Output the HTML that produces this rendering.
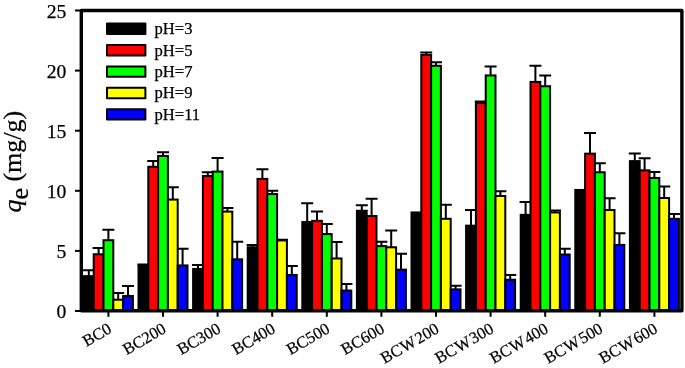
<!DOCTYPE html>
<html><head><meta charset="utf-8"><title>chart</title>
<style>html,body{margin:0;padding:0;background:#fff;overflow:hidden}svg{display:block}text{font-family:"Liberation Serif","Times New Roman",serif;fill:#000;stroke:#000;stroke-width:0.25px}</style></head><body>
<svg width="685" height="368" viewBox="0 0 685 368">
<rect x="0" y="0" width="685" height="368" fill="#fff"/>
<g stroke="#000" stroke-width="2" fill="none">
<path d="M88.80 276.14V270.25M82.80 270.25H94.80"/>
<path d="M143.40 265.80V264.60M137.40 264.60H149.40"/>
<path d="M198.00 268.93V264.96M192.00 264.96H204.00"/>
<path d="M252.60 247.29V244.89M246.60 244.89H258.60"/>
<path d="M307.20 222.05V203.30M301.20 203.30H313.20"/>
<path d="M361.80 210.75V205.22M355.80 205.22H367.80"/>
<path d="M471.00 225.66V210.03M465.00 210.03H477.00"/>
<path d="M525.60 214.84V202.10M519.60 202.10H531.60"/>
<path d="M634.80 161.11V153.54M628.80 153.54H640.80"/>
<path d="M98.60 254.27V248.02M92.60 248.02H104.60"/>
<path d="M153.20 166.76V161.11M147.20 161.11H159.20"/>
<path d="M207.80 176.02V172.17M201.80 172.17H213.80"/>
<path d="M262.40 178.90V169.16M256.40 169.16H268.40"/>
<path d="M317.00 220.85V211.59M311.00 211.59H323.00"/>
<path d="M371.60 216.04V198.85M365.60 198.85H377.60"/>
<path d="M426.20 54.97V52.57M420.20 52.57H432.20"/>
<path d="M480.80 103.05V101.61M474.80 101.61H486.80"/>
<path d="M535.40 81.90V65.79M529.40 65.79H541.40"/>
<path d="M590.00 153.66V133.10M584.00 133.10H596.00"/>
<path d="M644.60 170.37V158.35M638.60 158.35H650.60"/>
<path d="M108.40 240.20V229.74M102.40 229.74H114.40"/>
<path d="M163.00 155.94V152.34M157.00 152.34H169.00"/>
<path d="M217.60 171.57V157.99M211.60 157.99H223.60"/>
<path d="M272.20 194.05V190.80M266.20 190.80H278.20"/>
<path d="M326.80 234.07V223.98M320.80 223.98H332.80"/>
<path d="M381.40 246.09V241.64M375.40 241.64H387.40"/>
<path d="M436.00 65.79V62.19M430.00 62.19H442.00"/>
<path d="M490.60 75.41V66.51M484.60 66.51H496.60"/>
<path d="M545.20 86.23V75.41M539.20 75.41H551.20"/>
<path d="M599.80 172.29V163.15M593.80 163.15H605.80"/>
<path d="M654.40 177.94V172.05M648.40 172.05H660.40"/>
<path d="M118.20 299.70V292.97M112.20 292.97H124.20"/>
<path d="M172.80 199.57V187.19M166.80 187.19H178.80"/>
<path d="M227.40 211.59V207.99M221.40 207.99H233.40"/>
<path d="M282.00 240.44V239.84M276.00 239.84H288.00"/>
<path d="M336.60 258.47V242.01M330.60 242.01H342.60"/>
<path d="M391.20 247.29V230.47M385.20 230.47H397.20"/>
<path d="M445.80 218.81V204.74M439.80 204.74H451.80"/>
<path d="M500.40 195.97V191.16M494.40 191.16H506.40"/>
<path d="M555.00 212.44V210.39M549.00 210.39H561.00"/>
<path d="M609.60 210.03V198.13M603.60 198.13H615.60"/>
<path d="M664.20 198.01V186.59M658.20 186.59H670.20"/>
<path d="M128.00 295.98V286.12M122.00 286.12H134.00"/>
<path d="M182.60 265.44V248.86M176.60 248.86H188.60"/>
<path d="M237.20 259.31V241.64M231.20 241.64H243.20"/>
<path d="M291.80 274.94V266.05M285.80 266.05H297.80"/>
<path d="M346.40 290.57V283.95M340.40 283.95H352.40"/>
<path d="M401.00 269.65V253.66M395.00 253.66H407.00"/>
<path d="M455.60 289.36V285.76M449.60 285.76H461.60"/>
<path d="M510.20 279.75V274.94M504.20 274.94H516.20"/>
<path d="M564.80 254.51V248.86M558.80 248.86H570.80"/>
<path d="M619.40 244.89V233.23M613.40 233.23H625.40"/>
<path d="M674.00 218.81V214.12M668.00 214.12H680.00"/>
</g>
<g stroke="#000" stroke-width="2" fill="#000000">
<rect x="83.90" y="276.14" width="9.80" height="34.86"/>
<rect x="138.50" y="265.80" width="9.80" height="45.20"/>
<rect x="193.10" y="268.93" width="9.80" height="42.07"/>
<rect x="247.70" y="247.29" width="9.80" height="63.71"/>
<rect x="302.30" y="222.05" width="9.80" height="88.95"/>
<rect x="356.90" y="210.75" width="9.80" height="100.25"/>
<rect x="411.50" y="212.44" width="9.80" height="98.56"/>
<rect x="466.10" y="225.66" width="9.80" height="85.34"/>
<rect x="520.70" y="214.84" width="9.80" height="96.16"/>
<rect x="575.30" y="189.96" width="9.80" height="121.04"/>
<rect x="629.90" y="161.11" width="9.80" height="149.89"/>
</g>
<g stroke="#000" stroke-width="2" fill="#ff0000">
<rect x="93.70" y="254.27" width="9.80" height="56.73"/>
<rect x="148.30" y="166.76" width="9.80" height="144.24"/>
<rect x="202.90" y="176.02" width="9.80" height="134.98"/>
<rect x="257.50" y="178.90" width="9.80" height="132.10"/>
<rect x="312.10" y="220.85" width="9.80" height="90.15"/>
<rect x="366.70" y="216.04" width="9.80" height="94.96"/>
<rect x="421.30" y="54.97" width="9.80" height="256.03"/>
<rect x="475.90" y="103.05" width="9.80" height="207.95"/>
<rect x="530.50" y="81.90" width="9.80" height="229.10"/>
<rect x="585.10" y="153.66" width="9.80" height="157.34"/>
<rect x="639.70" y="170.37" width="9.80" height="140.63"/>
</g>
<g stroke="#000" stroke-width="2" fill="#00ff00">
<rect x="103.50" y="240.20" width="9.80" height="70.80"/>
<rect x="158.10" y="155.94" width="9.80" height="155.06"/>
<rect x="212.70" y="171.57" width="9.80" height="139.43"/>
<rect x="267.30" y="194.05" width="9.80" height="116.95"/>
<rect x="321.90" y="234.07" width="9.80" height="76.93"/>
<rect x="376.50" y="246.09" width="9.80" height="64.91"/>
<rect x="431.10" y="65.79" width="9.80" height="245.21"/>
<rect x="485.70" y="75.41" width="9.80" height="235.59"/>
<rect x="540.30" y="86.23" width="9.80" height="224.77"/>
<rect x="594.90" y="172.29" width="9.80" height="138.71"/>
<rect x="649.50" y="177.94" width="9.80" height="133.06"/>
</g>
<g stroke="#000" stroke-width="2" fill="#ffff00">
<rect x="113.30" y="299.70" width="9.80" height="11.30"/>
<rect x="167.90" y="199.57" width="9.80" height="111.43"/>
<rect x="222.50" y="211.59" width="9.80" height="99.41"/>
<rect x="277.10" y="240.44" width="9.80" height="70.56"/>
<rect x="331.70" y="258.47" width="9.80" height="52.53"/>
<rect x="386.30" y="247.29" width="9.80" height="63.71"/>
<rect x="440.90" y="218.81" width="9.80" height="92.19"/>
<rect x="495.50" y="195.97" width="9.80" height="115.03"/>
<rect x="550.10" y="212.44" width="9.80" height="98.56"/>
<rect x="604.70" y="210.03" width="9.80" height="100.97"/>
<rect x="659.30" y="198.01" width="9.80" height="112.99"/>
</g>
<g stroke="#000" stroke-width="2" fill="#0000ff">
<rect x="123.10" y="295.98" width="9.80" height="15.02"/>
<rect x="177.70" y="265.44" width="9.80" height="45.56"/>
<rect x="232.30" y="259.31" width="9.80" height="51.69"/>
<rect x="286.90" y="274.94" width="9.80" height="36.06"/>
<rect x="341.50" y="290.57" width="9.80" height="20.43"/>
<rect x="396.10" y="269.65" width="9.80" height="41.35"/>
<rect x="450.70" y="289.36" width="9.80" height="21.64"/>
<rect x="505.30" y="279.75" width="9.80" height="31.25"/>
<rect x="559.90" y="254.51" width="9.80" height="56.49"/>
<rect x="614.50" y="244.89" width="9.80" height="66.11"/>
<rect x="669.10" y="218.81" width="9.80" height="92.19"/>
</g>
<rect x="81.3" y="10.55" width="600.6" height="300.2" fill="none" stroke="#000" stroke-width="3.4" stroke-linejoin="round"/>
<g stroke="#000" stroke-width="2">
<path d="M75 311.00H81"/>
<path d="M75 250.90H81"/>
<path d="M75 190.80H81"/>
<path d="M75 130.70H81"/>
<path d="M75 70.60H81"/>
<path d="M75 10.50H81"/>
<path d="M108.40 311V316.8"/>
<path d="M163.00 311V316.8"/>
<path d="M217.60 311V316.8"/>
<path d="M272.20 311V316.8"/>
<path d="M326.80 311V316.8"/>
<path d="M381.40 311V316.8"/>
<path d="M436.00 311V316.8"/>
<path d="M490.60 311V316.8"/>
<path d="M545.20 311V316.8"/>
<path d="M599.80 311V316.8"/>
<path d="M654.40 311V316.8"/>
</g>
<g font-size="19.6" text-anchor="end">
<text x="66.4" y="318.10">0</text>
<text x="66.4" y="258.00">5</text>
<text x="66.4" y="197.90">10</text>
<text x="66.4" y="137.80">15</text>
<text x="66.4" y="77.70">20</text>
<text x="66.4" y="17.60">25</text>
</g>
<g font-size="16.5" text-anchor="end">
<text transform="translate(112.60 331.8) rotate(-30)">BC0</text>
<text transform="translate(167.20 331.8) rotate(-30)">BC200</text>
<text transform="translate(221.80 331.8) rotate(-30)">BC300</text>
<text transform="translate(276.40 331.8) rotate(-30)">BC400</text>
<text transform="translate(331.00 331.8) rotate(-30)">BC500</text>
<text transform="translate(385.60 331.8) rotate(-30)">BC600</text>
<text transform="translate(440.20 331.8) rotate(-30)">BC<tspan dx="0.6">W</tspan><tspan dx="1.4">200</tspan></text>
<text transform="translate(494.80 331.8) rotate(-30)">BC<tspan dx="0.6">W</tspan><tspan dx="1.4">300</tspan></text>
<text transform="translate(549.40 331.8) rotate(-30)">BC<tspan dx="0.6">W</tspan><tspan dx="1.4">400</tspan></text>
<text transform="translate(604.00 331.8) rotate(-30)">BC<tspan dx="0.6">W</tspan><tspan dx="1.4">500</tspan></text>
<text transform="translate(658.60 331.8) rotate(-30)">BC<tspan dx="0.6">W</tspan><tspan dx="1.4">600</tspan></text>
</g>
<text font-size="26" transform="translate(21 212.6) rotate(-90)"><tspan font-style="italic">q</tspan><tspan dy="7.2">e</tspan><tspan dy="-7.2"> (mg/g)</tspan></text>
<rect x="107" y="23.60" width="38.4" height="10.4" fill="#000000" stroke="#000" stroke-width="2" stroke-linejoin="round"/>
<text font-size="16.6" x="154.5" y="34.20">pH=3</text>
<rect x="107" y="45.00" width="38.4" height="10.4" fill="#ff0000" stroke="#000" stroke-width="2" stroke-linejoin="round"/>
<text font-size="16.6" x="154.5" y="55.60">pH=5</text>
<rect x="107" y="66.40" width="38.4" height="10.4" fill="#00ff00" stroke="#000" stroke-width="2" stroke-linejoin="round"/>
<text font-size="16.6" x="154.5" y="77.00">pH=7</text>
<rect x="107" y="87.80" width="38.4" height="10.4" fill="#ffff00" stroke="#000" stroke-width="2" stroke-linejoin="round"/>
<text font-size="16.6" x="154.5" y="98.40">pH=9</text>
<rect x="107" y="109.20" width="38.4" height="10.4" fill="#0000ff" stroke="#000" stroke-width="2" stroke-linejoin="round"/>
<text font-size="16.6" x="154.5" y="119.80">pH=11</text>
</svg></body></html>
